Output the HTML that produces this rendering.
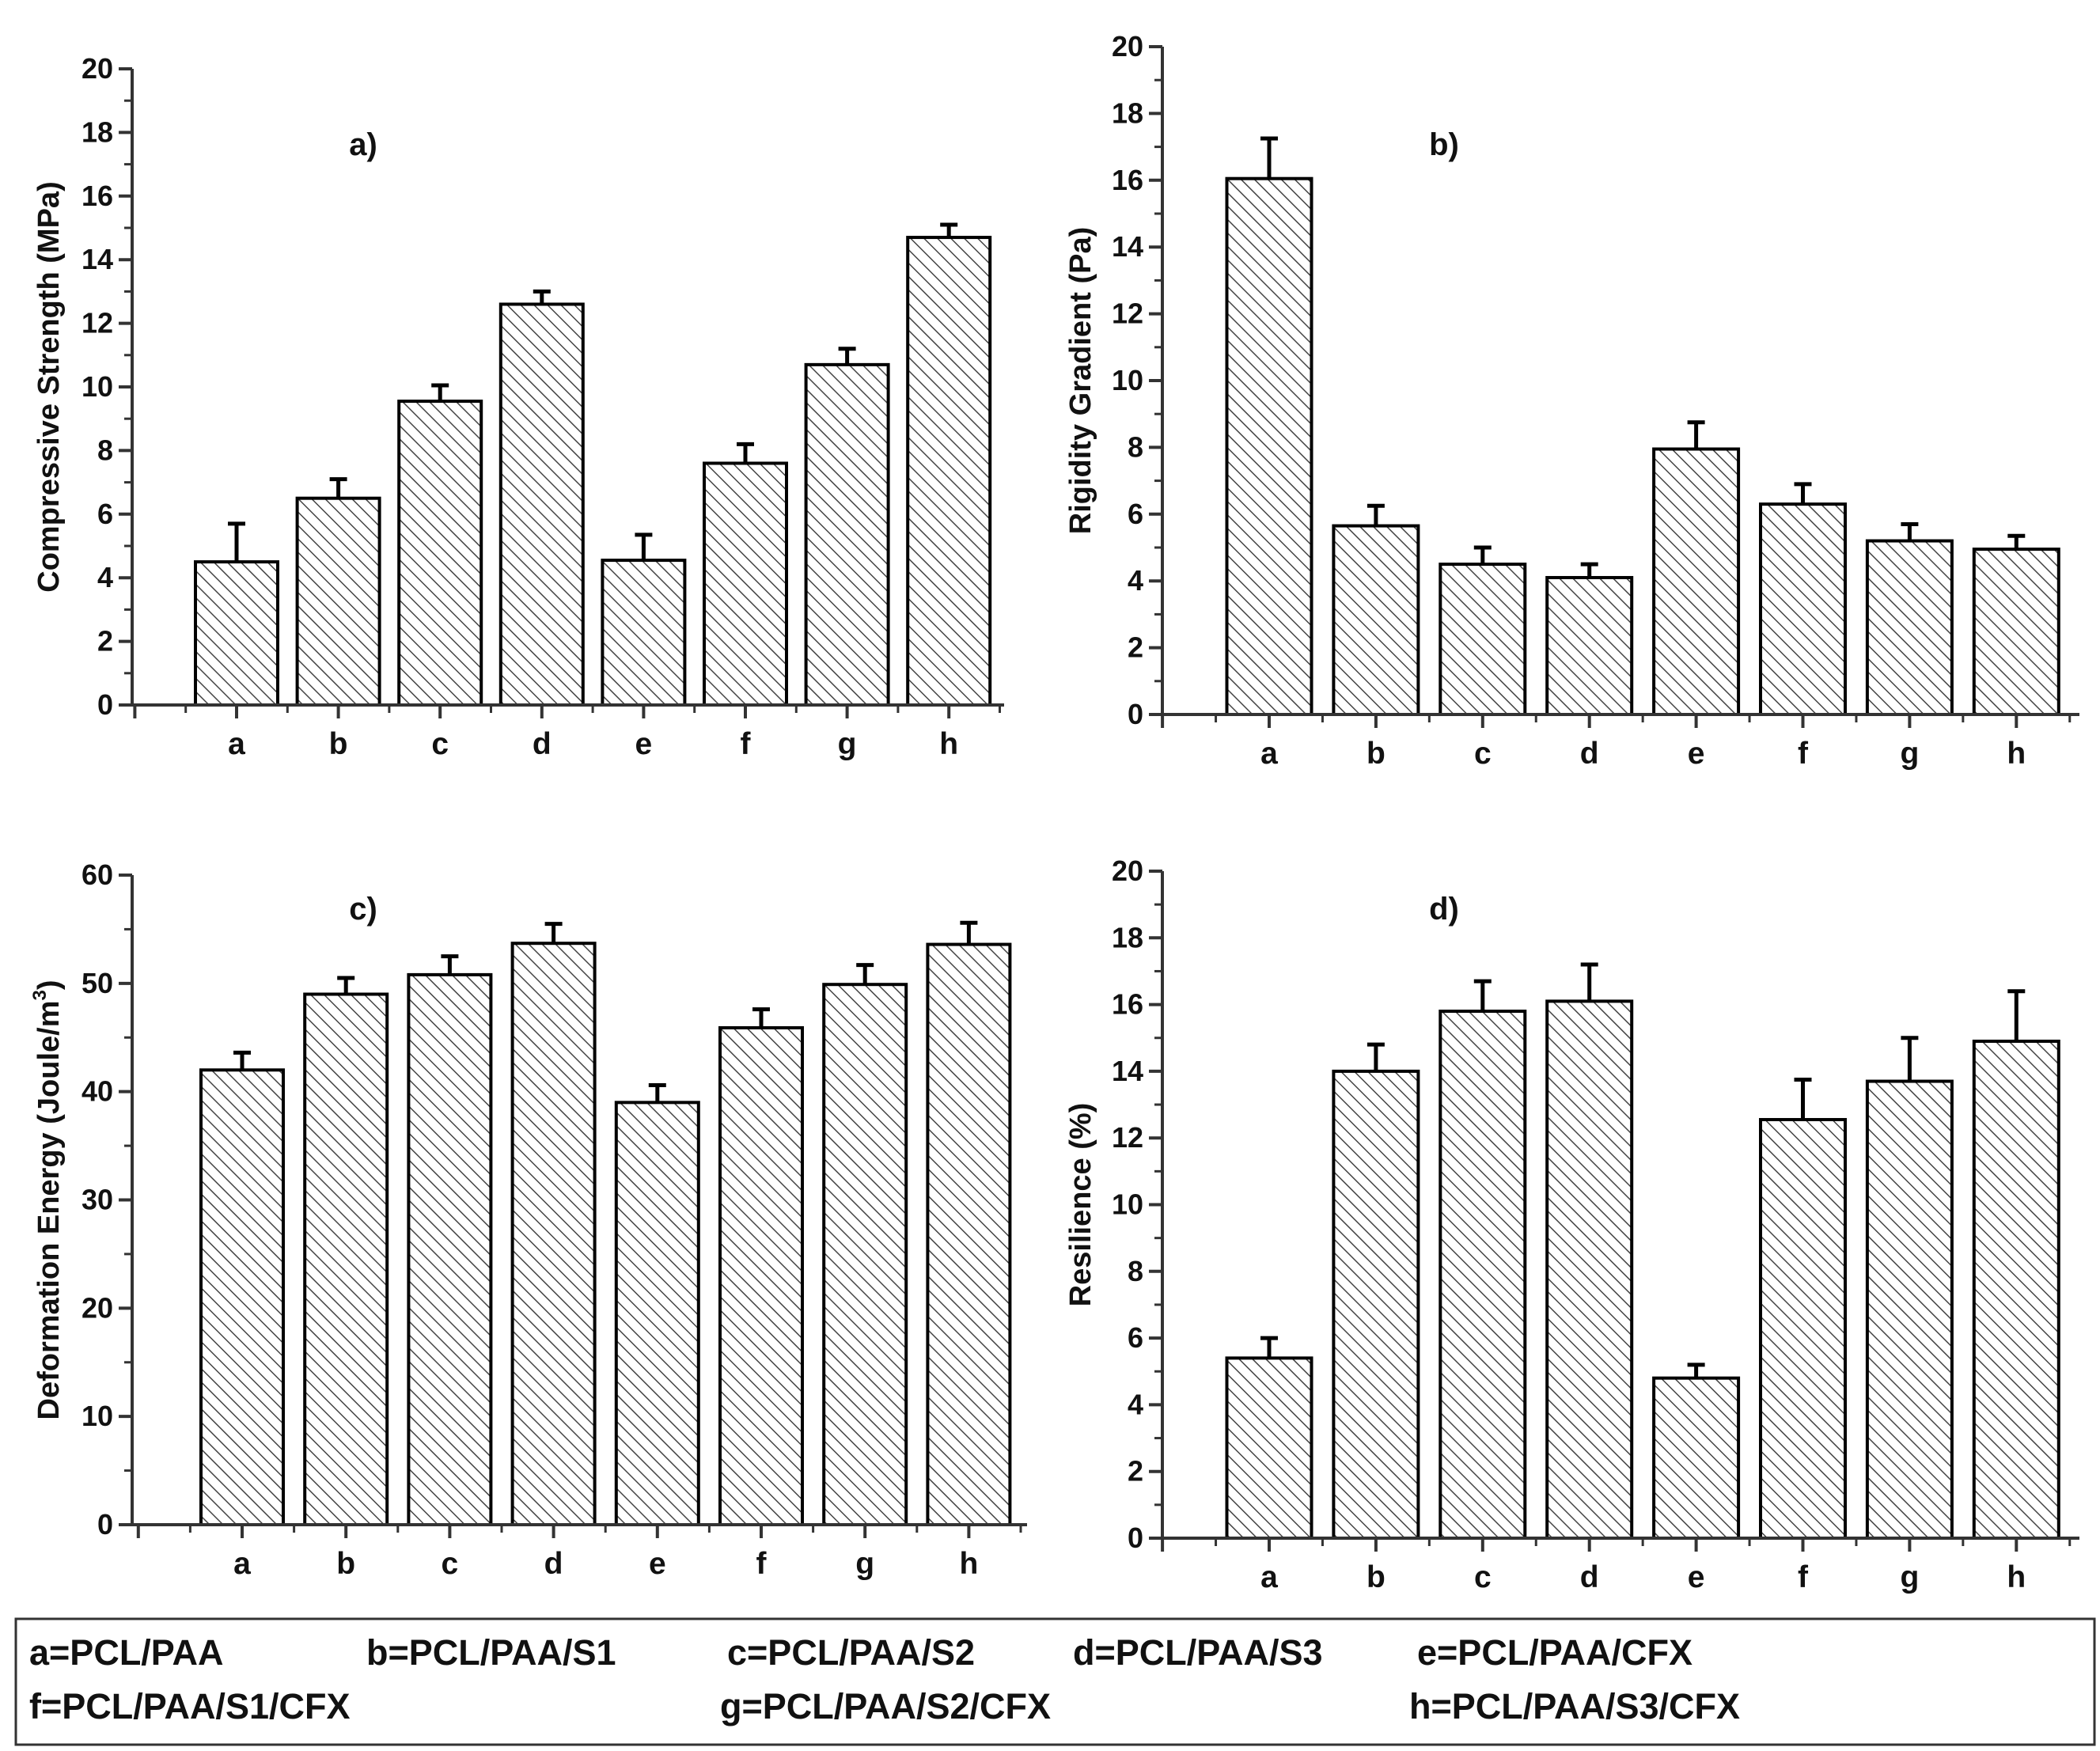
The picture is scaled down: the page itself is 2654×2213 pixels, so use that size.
<!DOCTYPE html>
<html><head><meta charset="utf-8">
<style>
html,body{margin:0;padding:0;background:#fff;}
svg{display:block;}
text{font-family:"Liberation Sans",Arial,sans-serif;font-weight:bold;fill:#111;}
.leg{font-family:"Liberation Sans",sans-serif;font-weight:bold;font-size:45px;fill:#111;}
</style></head>
<body>
<svg id="fig" width="2654" height="2213" viewBox="0 0 2654 2213" xmlns="http://www.w3.org/2000/svg">
<defs>
<pattern id="hatch" patternUnits="userSpaceOnUse" width="12" height="12" patternTransform="rotate(-45)">
<rect width="12" height="12" fill="#fff"/>
<line x1="0" y1="0" x2="0" y2="12" stroke="#444" stroke-width="3"/>
</pattern>
</defs>
<g id="panels"></g>
<g>
<rect x="20" y="2046" width="2627" height="159" fill="none" stroke="#333" stroke-width="3"/>
<text class="leg" x="37" y="2104">a=PCL/PAA</text>
<text class="leg" x="463" y="2104">b=PCL/PAA/S1</text>
<text class="leg" x="919" y="2104">c=PCL/PAA/S2</text>
<text class="leg" x="1356" y="2104">d=PCL/PAA/S3</text>
<text class="leg" x="1791" y="2104">e=PCL/PAA/CFX</text>
<text class="leg" x="37" y="2172">f=PCL/PAA/S1/CFX</text>
<text class="leg" x="910" y="2172">g=PCL/PAA/S2/CFX</text>
<text class="leg" x="1781" y="2172">h=PCL/PAA/S3/CFX</text>
</g>
</svg>
<script>
const categories = ['a','b','c','d','e','f','g','h'];
const valuesA = [4.5, 6.5, 9.55, 12.6, 4.55, 7.6, 10.7, 14.7];
const errorsA = [1.2, 0.6, 0.5, 0.4, 0.8, 0.6, 0.5, 0.4];
const valuesB = [16.05, 5.65, 4.5, 4.1, 7.95, 6.3, 5.2, 4.95];
const errorsB = [1.2, 0.6, 0.5, 0.4, 0.8, 0.6, 0.5, 0.4];
const valuesC = [42, 49, 50.8, 53.7, 39, 45.9, 49.9, 53.6];
const errorsC = [1.6, 1.5, 1.7, 1.8, 1.6, 1.7, 1.8, 2.0];
const valuesD = [5.4, 14, 15.8, 16.1, 4.8, 12.55, 13.7, 14.9];
const errorsD = [0.6, 0.8, 0.9, 1.1, 0.4, 1.2, 1.3, 1.5];
const ticks20 = [0,2,4,6,8,10,12,14,16,18,20];
const ticks60 = [0,10,20,30,40,50,60];

const NS='http://www.w3.org/2000/svg';
const root=document.getElementById('panels');
function mk(tag,attrs,parent){const e=document.createElementNS(NS,tag);for(const k in attrs)e.setAttribute(k,attrs[k]);parent.appendChild(e);return e;}

function panel(cfg){
  const g=mk('g',{},root);
  
  
  const ymax=cfg.ticks[cfg.ticks.length-1];
  const Y=v=>cfg.y0-(v/ymax)*(cfg.y0-cfg.yTop);
  const X=i=>cfg.x0+cfg.step*i;
  cfg.values.forEach((v,i)=>{
    const cx=X(i), top=Y(v), et=Y(v+cfg.errors[i]);
    const eb=mk('line',{x1:cx,y1:top,x2:cx,y2:et,stroke:'#000','stroke-width':5},g);
    
    
    mk('line',{x1:cx-11,y1:et,x2:cx+11,y2:et,stroke:'#000','stroke-width':5},g);
    const r=mk('rect',{x:cx-cfg.bw/2,y:top,width:cfg.bw,height:cfg.y0-top,fill:'url(#hatch)',stroke:'#000','stroke-width':4},g);
    
    
    const t=mk('text',{x:cx,y:cfg.y0+62,'text-anchor':'middle','font-size':39},g);
    t.textContent=categories[i];
    
    
  });
  const ax=mk('line',{x1:cfg.ax,y1:cfg.y0,x2:cfg.ax,y2:cfg.yTop,stroke:'#333','stroke-width':4},g);
  
  
  const xa=mk('line',{x1:cfg.ax,y1:cfg.y0,x2:cfg.axEnd,y2:cfg.y0,stroke:'#333','stroke-width':4},g);
  
  
  const dt=cfg.ticks[1]-cfg.ticks[0];
  cfg.ticks.forEach((v,k)=>{
    mk('line',{x1:cfg.ax-17,y1:Y(v),x2:cfg.ax,y2:Y(v),stroke:'#333','stroke-width':4},g);
    if(k<cfg.ticks.length-1) mk('line',{x1:cfg.ax-10,y1:Y(v+dt/2),x2:cfg.ax,y2:Y(v+dt/2),stroke:'#333','stroke-width':3},g);
    const t=mk('text',{x:cfg.ax-24,y:Y(v)+12,'text-anchor':'end','font-size':36},g);
    t.textContent=v;
    
    
  });
  for(let i=-2;i<=8;i++){
    const x=X(i);
    if(x>=cfg.ax-1 && x<=cfg.axEnd) mk('line',{x1:x,y1:cfg.y0,x2:x,y2:cfg.y0+17,stroke:'#333','stroke-width':4},g);
    const xm=X(i+0.5);
    if(xm>=cfg.ax-1 && xm<=cfg.axEnd) mk('line',{x1:xm,y1:cfg.y0,x2:xm,y2:cfg.y0+10,stroke:'#333','stroke-width':3},g);
  }
  const tt=mk('text',{x:0,y:0,'text-anchor':'middle','font-size':38,transform:`translate(${cfg.titleX},${(cfg.y0+cfg.yTop)/2}) rotate(-90)`},g);
  tt.innerHTML=cfg.title;
  
  
  const pl=mk('text',{x:cfg.lx,y:cfg.ly,'text-anchor':'middle','font-size':40},g);
  pl.textContent=cfg.label;
  
  
}

panel({name:'panel-a-compressive-strength',values:valuesA,errors:errorsA,ticks:ticks20,ax:167,axEnd:1269,y0:891,yTop:87,x0:299,step:128.6,bw:104,title:'Compressive  Strength (MPa)',titleX:74,label:'a)',lx:459,ly:196});
panel({name:'panel-b-rigidity-gradient',values:valuesB,errors:errorsB,ticks:ticks20,ax:1469,axEnd:2628,y0:903,yTop:59,x0:1604,step:134.9,bw:107,title:'Rigidity Gradient  (Pa)',titleX:1378,label:'b)',lx:1825,ly:196});
panel({name:'panel-c-deformation-energy',values:valuesC,errors:errorsC,ticks:ticks60,ax:167,axEnd:1298,y0:1927,yTop:1106,x0:306,step:131.2,bw:104,title:'Deformation Energy (Joule/m<tspan font-size="24" dy="-16">3</tspan><tspan dy="16">)</tspan>',titleX:74,label:'c)',lx:459,ly:1162});
panel({name:'panel-d-resilience',values:valuesD,errors:errorsD,ticks:ticks20,ax:1469,axEnd:2628,y0:1944,yTop:1101,x0:1604,step:134.9,bw:107,title:'Resilience (%)',titleX:1378,label:'d)',lx:1825,ly:1162});
</script>
</body></html>
